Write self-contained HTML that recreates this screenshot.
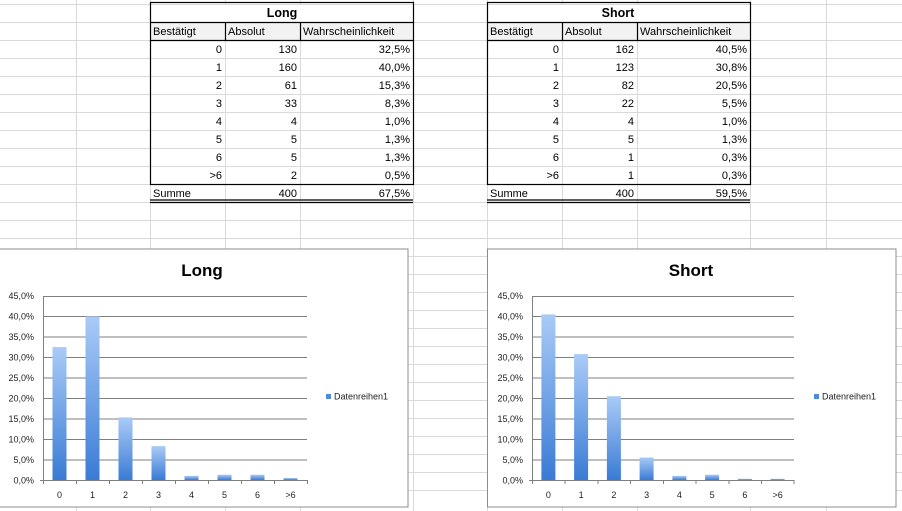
<!DOCTYPE html>
<html><head><meta charset="utf-8"><style>
html,body{margin:0;padding:0;background:#fff;}
svg{display:block;font-family:"Liberation Sans",sans-serif;}
</style></head><body>
<svg width="902" height="511" viewBox="0 0 902 511" xmlns="http://www.w3.org/2000/svg">
<defs>
<linearGradient id="g" x1="0" y1="0" x2="0" y2="1">
<stop offset="0" stop-color="#a9cbf7"/><stop offset="1" stop-color="#3a7bd5"/>
</linearGradient>
</defs>
<!-- sheet grid -->
<g stroke="#d9d9d9" stroke-width="1">
<line x1="0" y1="4.5" x2="902" y2="4.5"/>
<line x1="0" y1="22.5" x2="902" y2="22.5"/><line x1="0" y1="40.5" x2="902" y2="40.5"/>
<line x1="0" y1="58.5" x2="902" y2="58.5"/><line x1="0" y1="76.5" x2="902" y2="76.5"/>
<line x1="0" y1="94.5" x2="902" y2="94.5"/><line x1="0" y1="112.5" x2="902" y2="112.5"/>
<line x1="0" y1="130.5" x2="902" y2="130.5"/><line x1="0" y1="148.5" x2="902" y2="148.5"/>
<line x1="0" y1="166.5" x2="902" y2="166.5"/><line x1="0" y1="184.5" x2="902" y2="184.5"/>
<line x1="0" y1="202.5" x2="902" y2="202.5"/><line x1="0" y1="220.5" x2="902" y2="220.5"/>
<line x1="0" y1="238.5" x2="902" y2="238.5"/><line x1="0" y1="256.5" x2="902" y2="256.5"/>
<line x1="0" y1="274.5" x2="902" y2="274.5"/><line x1="0" y1="292.5" x2="902" y2="292.5"/>
<line x1="0" y1="310.5" x2="902" y2="310.5"/><line x1="0" y1="328.5" x2="902" y2="328.5"/>
<line x1="0" y1="346.5" x2="902" y2="346.5"/><line x1="0" y1="364.5" x2="902" y2="364.5"/>
<line x1="0" y1="382.5" x2="902" y2="382.5"/><line x1="0" y1="400.5" x2="902" y2="400.5"/>
<line x1="0" y1="418.5" x2="902" y2="418.5"/><line x1="0" y1="436.5" x2="902" y2="436.5"/>
<line x1="0" y1="454.5" x2="902" y2="454.5"/><line x1="0" y1="472.5" x2="902" y2="472.5"/>
<line x1="0" y1="490.5" x2="902" y2="490.5"/>
<line x1="76.5" y1="0" x2="76.5" y2="511"/><line x1="150.5" y1="0" x2="150.5" y2="511"/>
<line x1="225.5" y1="0" x2="225.5" y2="511"/><line x1="300.5" y1="0" x2="300.5" y2="511"/>
<line x1="413.5" y1="0" x2="413.5" y2="511"/><line x1="487.5" y1="0" x2="487.5" y2="511"/>
<line x1="562.5" y1="0" x2="562.5" y2="511"/><line x1="637.5" y1="0" x2="637.5" y2="511"/>
<line x1="750.5" y1="0" x2="750.5" y2="511"/><line x1="826.5" y1="0" x2="826.5" y2="511"/>
</g>

<!-- LEFT TABLE -->
<rect x="151" y="5" width="262" height="179" fill="#fff"/>
<rect x="151" y="23" width="262" height="17" fill="#f2f2f2"/>
<g stroke="#dadada"><line x1="150" y1="58.5" x2="413" y2="58.5"/><line x1="150" y1="76.5" x2="413" y2="76.5"/><line x1="150" y1="94.5" x2="413" y2="94.5"/><line x1="150" y1="112.5" x2="413" y2="112.5"/><line x1="150" y1="130.5" x2="413" y2="130.5"/><line x1="150" y1="148.5" x2="413" y2="148.5"/><line x1="150" y1="166.5" x2="413" y2="166.5"/><line x1="225.5" y1="40" x2="225.5" y2="202"/><line x1="300.5" y1="40" x2="300.5" y2="202"/></g>
<g stroke="#000" fill="none" stroke-width="1.2">
<rect x="150.5" y="2.5" width="263" height="182"/>
<line x1="150" y1="22.5" x2="413" y2="22.5"/><line x1="150" y1="40.5" x2="413" y2="40.5"/>
<line x1="225.5" y1="22" x2="225.5" y2="40"/><line x1="300.5" y1="22" x2="300.5" y2="40"/>
<line x1="150" y1="200" x2="413" y2="200"/><line x1="150" y1="202.5" x2="413" y2="202.5"/>
</g>
<g font-size="11" fill="#000">
<text x="282" y="17" text-anchor="middle" font-weight="bold" font-size="12.5">Long</text>
<text x="153" y="35">Bestätigt</text><text x="228" y="35">Absolut</text><text x="303" y="35">Wahrscheinlichkeit</text>
<g text-anchor="end">
<text x="222" y="53">0</text><text x="297" y="53">130</text><text x="410" y="53">32,5%</text>
<text x="222" y="71">1</text><text x="297" y="71">160</text><text x="410" y="71">40,0%</text>
<text x="222" y="89">2</text><text x="297" y="89">61</text><text x="410" y="89">15,3%</text>
<text x="222" y="107">3</text><text x="297" y="107">33</text><text x="410" y="107">8,3%</text>
<text x="222" y="125">4</text><text x="297" y="125">4</text><text x="410" y="125">1,0%</text>
<text x="222" y="143">5</text><text x="297" y="143">5</text><text x="410" y="143">1,3%</text>
<text x="222" y="161">6</text><text x="297" y="161">5</text><text x="410" y="161">1,3%</text>
<text x="222" y="179">&gt;6</text><text x="297" y="179">2</text><text x="410" y="179">0,5%</text>
<text x="297" y="197">400</text><text x="410" y="197">67,5%</text>
</g>
<text x="153" y="197">Summe</text>
</g>

<!-- RIGHT TABLE -->
<rect x="488" y="5" width="262" height="179" fill="#fff"/>
<rect x="488" y="23" width="262" height="17" fill="#f2f2f2"/>
<g stroke="#dadada"><line x1="487" y1="58.5" x2="750" y2="58.5"/><line x1="487" y1="76.5" x2="750" y2="76.5"/><line x1="487" y1="94.5" x2="750" y2="94.5"/><line x1="487" y1="112.5" x2="750" y2="112.5"/><line x1="487" y1="130.5" x2="750" y2="130.5"/><line x1="487" y1="148.5" x2="750" y2="148.5"/><line x1="487" y1="166.5" x2="750" y2="166.5"/><line x1="562.5" y1="40" x2="562.5" y2="202"/><line x1="637.5" y1="40" x2="637.5" y2="202"/></g>
<g stroke="#000" fill="none" stroke-width="1.2">
<rect x="487.5" y="2.5" width="263" height="182"/>
<line x1="487" y1="22.5" x2="750" y2="22.5"/><line x1="487" y1="40.5" x2="750" y2="40.5"/>
<line x1="562.5" y1="22" x2="562.5" y2="40"/><line x1="637.5" y1="22" x2="637.5" y2="40"/>
<line x1="487" y1="200" x2="750" y2="200"/><line x1="487" y1="202.5" x2="750" y2="202.5"/>
</g>
<g font-size="11" fill="#000">
<text x="618" y="17" text-anchor="middle" font-weight="bold" font-size="12.5">Short</text>
<text x="490" y="35">Bestätigt</text><text x="565" y="35">Absolut</text><text x="640" y="35">Wahrscheinlichkeit</text>
<g text-anchor="end">
<text x="559" y="53">0</text><text x="634" y="53">162</text><text x="747" y="53">40,5%</text>
<text x="559" y="71">1</text><text x="634" y="71">123</text><text x="747" y="71">30,8%</text>
<text x="559" y="89">2</text><text x="634" y="89">82</text><text x="747" y="89">20,5%</text>
<text x="559" y="107">3</text><text x="634" y="107">22</text><text x="747" y="107">5,5%</text>
<text x="559" y="125">4</text><text x="634" y="125">4</text><text x="747" y="125">1,0%</text>
<text x="559" y="143">5</text><text x="634" y="143">5</text><text x="747" y="143">1,3%</text>
<text x="559" y="161">6</text><text x="634" y="161">1</text><text x="747" y="161">0,3%</text>
<text x="559" y="179">&gt;6</text><text x="634" y="179">1</text><text x="747" y="179">0,3%</text>
<text x="634" y="197">400</text><text x="747" y="197">59,5%</text>
</g>
<text x="490" y="197">Summe</text>
</g>

<!-- LEFT CHART -->
<rect x="-2" y="249" width="410" height="258" fill="#fff" stroke="#8c8c8c"/>
<text x="202" y="276" text-anchor="middle" font-weight="bold" font-size="17">Long</text>
<g stroke="#7f7f7f"><line x1="43" y1="296.5" x2="307" y2="296.5"/><line x1="43" y1="316.5" x2="307" y2="316.5"/><line x1="43" y1="337" x2="307" y2="337"/><line x1="43" y1="357.5" x2="307" y2="357.5"/><line x1="43" y1="378" x2="307" y2="378"/><line x1="43" y1="398.5" x2="307" y2="398.5"/><line x1="43" y1="419" x2="307" y2="419"/><line x1="43" y1="439.5" x2="307" y2="439.5"/><line x1="43" y1="460" x2="307" y2="460"/></g>
<g fill="url(#g)">
<rect x="52.5" y="347.1" width="14" height="132.9"/><rect x="85.5" y="316.4" width="14" height="163.6"/><rect x="118.5" y="417.4" width="14" height="62.6"/><rect x="151.5" y="446.1" width="14" height="33.9"/><rect x="184.5" y="475.9" width="14" height="4.1"/><rect x="217.5" y="474.7" width="14" height="5.3"/><rect x="250.5" y="474.7" width="14" height="5.3"/><rect x="283.5" y="478" width="14" height="2"/>
</g>
<g stroke="#7f7f7f"><line x1="43.5" y1="296" x2="43.5" y2="484"/><line x1="40" y1="480.5" x2="307" y2="480.5"/>
<line x1="76.5" y1="480" x2="76.5" y2="484"/><line x1="109.5" y1="480" x2="109.5" y2="484"/><line x1="142.5" y1="480" x2="142.5" y2="484"/><line x1="175.5" y1="480" x2="175.5" y2="484"/><line x1="208.5" y1="480" x2="208.5" y2="484"/><line x1="241.5" y1="480" x2="241.5" y2="484"/><line x1="274.5" y1="480" x2="274.5" y2="484"/><line x1="307.5" y1="480" x2="307.5" y2="484"/></g>
<g font-size="9" fill="#222" text-anchor="end">
<text x="34" y="299">45,0%</text><text x="34" y="319.5">40,0%</text><text x="34" y="340">35,0%</text><text x="34" y="360.5">30,0%</text><text x="34" y="381">25,0%</text><text x="34" y="401.5">20,0%</text><text x="34" y="422">15,0%</text><text x="34" y="442.5">10,0%</text><text x="34" y="463">5,0%</text><text x="34" y="483.5">0,0%</text>
</g>
<g font-size="9" fill="#222" text-anchor="middle">
<text x="59.5" y="498">0</text><text x="92.5" y="498">1</text><text x="125.5" y="498">2</text><text x="158.5" y="498">3</text><text x="191.5" y="498">4</text><text x="224.5" y="498">5</text><text x="257.5" y="498">6</text><text x="290.5" y="498">&gt;6</text>
</g>
<rect x="326" y="394" width="5" height="5" fill="#4f8ae0"/>
<text x="334" y="399.5" font-size="9" fill="#222">Datenreihen1</text>

<!-- RIGHT CHART -->
<rect x="487.5" y="249" width="408.5" height="258" fill="#fff" stroke="#8c8c8c"/>
<text x="691" y="276" text-anchor="middle" font-weight="bold" font-size="17">Short</text>
<g stroke="#7f7f7f"><line x1="532" y1="296.5" x2="794" y2="296.5"/><line x1="532" y1="316.5" x2="794" y2="316.5"/><line x1="532" y1="337" x2="794" y2="337"/><line x1="532" y1="357.5" x2="794" y2="357.5"/><line x1="532" y1="378" x2="794" y2="378"/><line x1="532" y1="398.5" x2="794" y2="398.5"/><line x1="532" y1="419" x2="794" y2="419"/><line x1="532" y1="439.5" x2="794" y2="439.5"/><line x1="532" y1="460" x2="794" y2="460"/></g>
<g fill="url(#g)">
<rect x="541.4" y="314.4" width="14" height="165.6"/><rect x="574.1" y="354.1" width="14" height="125.9"/><rect x="606.9" y="396.2" width="14" height="83.8"/><rect x="639.6" y="457.5" width="14" height="22.5"/><rect x="672.4" y="475.9" width="14" height="4.1"/><rect x="705.1" y="474.7" width="14" height="5.3"/><rect x="737.9" y="478.8" width="14" height="1.2"/><rect x="770.6" y="478.8" width="14" height="1.2"/>
</g>
<g stroke="#7f7f7f"><line x1="532.5" y1="296" x2="532.5" y2="484"/><line x1="529" y1="480.5" x2="794" y2="480.5"/>
<line x1="565" y1="480" x2="565" y2="484"/><line x1="598" y1="480" x2="598" y2="484"/><line x1="630.5" y1="480" x2="630.5" y2="484"/><line x1="663.5" y1="480" x2="663.5" y2="484"/><line x1="696" y1="480" x2="696" y2="484"/><line x1="729" y1="480" x2="729" y2="484"/><line x1="761.5" y1="480" x2="761.5" y2="484"/><line x1="794" y1="480" x2="794" y2="484"/></g>
<g font-size="9" fill="#222" text-anchor="end">
<text x="523" y="299">45,0%</text><text x="523" y="319.5">40,0%</text><text x="523" y="340">35,0%</text><text x="523" y="360.5">30,0%</text><text x="523" y="381">25,0%</text><text x="523" y="401.5">20,0%</text><text x="523" y="422">15,0%</text><text x="523" y="442.5">10,0%</text><text x="523" y="463">5,0%</text><text x="523" y="483.5">0,0%</text>
</g>
<g font-size="9" fill="#222" text-anchor="middle">
<text x="548.4" y="498">0</text><text x="581.1" y="498">1</text><text x="613.9" y="498">2</text><text x="646.6" y="498">3</text><text x="679.4" y="498">4</text><text x="712.1" y="498">5</text><text x="744.9" y="498">6</text><text x="777.6" y="498">&gt;6</text>
</g>
<rect x="814" y="394" width="5" height="5" fill="#4f8ae0"/>
<text x="822" y="399.5" font-size="9" fill="#222">Datenreihen1</text>
</svg>
</body></html>
